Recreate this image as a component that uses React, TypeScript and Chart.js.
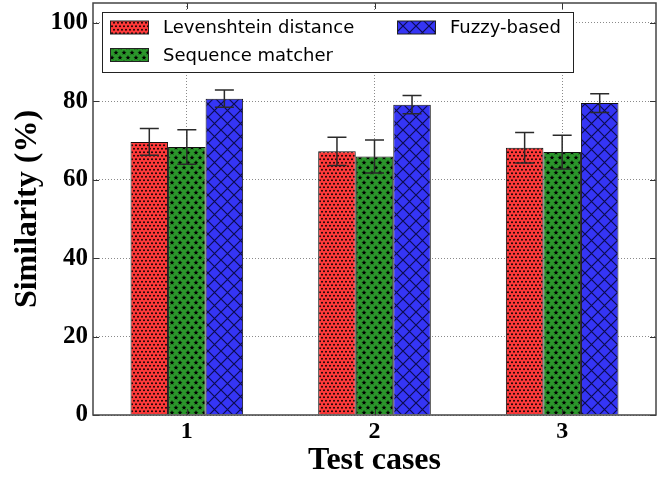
import React, { useEffect, useRef } from "react";
import { Chart, registerables } from "chart.js";

Chart.register(...registerables);

const categories = ["1", "2", "3"];
const seriesLabels = ["Levenshtein distance", "Sequence matcher", "Fuzzy-based"];
const levenshtein = [69.6, 67.2, 68.1];
const levenshteinErr = [3.4, 3.6, 3.9];
const sequence = [68.3, 65.9, 67.0];
const sequenceErr = [4.4, 4.2, 4.3];
const fuzzy = [80.6, 79.1, 79.5];
const fuzzyErr = [2.2, 2.3, 2.4];
const yTicks = [0, 20, 40, 60, 80, 100];

const RED = "#ff3a3a";
const GREEN = "#2b962b";
const BLUE = "#3535f5";

function makeTile(w: number, h: number, draw: (c: CanvasRenderingContext2D) => void) {
  const cv = document.createElement("canvas");
  cv.width = w;
  cv.height = h;
  const c = cv.getContext("2d")!;
  draw(c);
  return c.createPattern(cv, "repeat")!;
}

function dotPattern() {
  return makeTile(8, 7, (c) => {
    c.fillStyle = RED;
    c.fillRect(0, 0, 8, 7);
    c.fillStyle = "#000";
    const pts = [[2, 1.8], [6, 1.8], [0, 5.3], [4, 5.3], [8, 5.3]];
    for (const [x, y] of pts) {
      c.beginPath();
      c.arc(x, y, 0.95, 0, Math.PI * 2);
      c.fill();
    }
  });
}

function starPath(c: CanvasRenderingContext2D, cx: number, cy: number, r: number) {
  c.beginPath();
  for (let i = 0; i < 10; i++) {
    const rr = i % 2 === 0 ? r : r * 0.42;
    const a = -Math.PI / 2 + (i * Math.PI) / 5;
    const x = cx + rr * Math.cos(a);
    const y = cy + rr * Math.sin(a);
    if (i === 0) c.moveTo(x, y);
    else c.lineTo(x, y);
  }
  c.closePath();
  c.fill();
}

function starPattern() {
  return makeTile(8, 10, (c) => {
    c.fillStyle = GREEN;
    c.fillRect(0, 0, 8, 10);
    c.fillStyle = "#000";
    starPath(c, 4, 2.7, 2.6);
    starPath(c, 0, 7.7, 2.6);
    starPath(c, 8, 7.7, 2.6);
  });
}

function crossPattern() {
  return makeTile(13, 13, (c) => {
    c.fillStyle = BLUE;
    c.fillRect(0, 0, 13, 13);
    c.strokeStyle = "#0c0c50";
    c.lineWidth = 1.2;
    c.beginPath();
    c.moveTo(-1, -1);
    c.lineTo(14, 14);
    c.moveTo(14, -1);
    c.lineTo(-1, 14);
    c.stroke();
  });
}

const errorBars = {
  id: "errorBars",
  afterDatasetsDraw(chart: any) {
    const ctx = chart.ctx;
    const y = chart.scales.y;
    ctx.save();
    ctx.strokeStyle = "#2a2a2a";
    ctx.lineWidth = 1.5;
    chart.data.datasets.forEach((ds: any, di: number) => {
      const meta = chart.getDatasetMeta(di);
      meta.data.forEach((bar: any, i: number) => {
        const v = ds.data[i];
        const e = ds.errors[i];
        const top = y.getPixelForValue(v + e);
        const bot = y.getPixelForValue(v - e);
        const x = bar.x;
        ctx.beginPath();
        ctx.moveTo(x, top);
        ctx.lineTo(x, bot);
        ctx.moveTo(x - 9.5, top);
        ctx.lineTo(x + 9.5, top);
        ctx.moveTo(x - 9.5, bot);
        ctx.lineTo(x + 9.5, bot);
        ctx.stroke();
      });
    });
    ctx.restore();
  },
};

const frameAndLegend = {
  id: "frameAndLegend",
  afterDraw(chart: any) {
    const ctx = chart.ctx;
    const a = chart.chartArea;
    const xs = chart.scales.x;
    const ys = chart.scales.y;
    ctx.save();
    // inner ticks
    ctx.strokeStyle = "#333";
    ctx.lineWidth = 1;
    ctx.beginPath();
    yTicks.forEach((t) => {
      const py = Math.round(ys.getPixelForValue(t)) + 0.5;
      ctx.moveTo(a.left, py);
      ctx.lineTo(a.left + 6, py);
      ctx.moveTo(a.right, py);
      ctx.lineTo(a.right - 6, py);
    });
    categories.forEach((_, i) => {
      const px = Math.round(xs.getPixelForValue(i)) + 0.5;
      ctx.moveTo(px, a.bottom);
      ctx.lineTo(px, a.bottom - 6);
      ctx.moveTo(px, a.top);
      ctx.lineTo(px, a.top + 6);
    });
    ctx.stroke();
    // frame
    ctx.strokeStyle = "#444";
    ctx.lineWidth = 1.5;
    ctx.strokeRect(a.left, a.top, a.right - a.left, a.bottom - a.top);

    // legend
    const lx = 102.5, ly = 12.5, lw = 471, lh = 60;
    ctx.fillStyle = "#fff";
    ctx.fillRect(lx, ly, lw, lh);
    ctx.strokeStyle = "#222";
    ctx.lineWidth = 1;
    ctx.strokeRect(lx, ly, lw, lh);
    const slots = [
      { px: 110, ty: 27.5 },
      { px: 110, ty: 55 },
      { px: 397, ty: 27.5 },
    ];
    ctx.font = '18px "DejaVu Sans"';
    ctx.textBaseline = "middle";
    ctx.textAlign = "left";
    chart.data.datasets.forEach((ds: any, i: number) => {
      const s = slots[i];
      ctx.fillStyle = ds.backgroundColor;
      ctx.fillRect(s.px, s.ty - 6.5, 38, 13);
      ctx.strokeStyle = "#222";
      ctx.strokeRect(s.px + 0.5, s.ty - 6.5, 38, 13);
      ctx.fillStyle = "#000";
      ctx.fillText(ds.label, s.px + 53, s.ty + 1);
    });
    ctx.restore();
  },
};

export default function App() {
  const ref = useRef<HTMLCanvasElement>(null);
  useEffect(() => {
    const canvas = ref.current!;
    const patterns = [dotPattern(), starPattern(), crossPattern()];
    const values = [levenshtein, sequence, fuzzy];
    const errs = [levenshteinErr, sequenceErr, fuzzyErr];
    const chart = new Chart(canvas, {
      type: "bar",
      data: {
        labels: categories,
        datasets: seriesLabels.map((label, i) => ({
          label,
          data: values[i],
          errors: errs[i],
          backgroundColor: patterns[i],
          borderColor: "#111",
          borderWidth: 1,
          categoryPercentage: 0.6,
          barPercentage: 1.0,
        })) as any,
      },
      options: {
        animation: false,
        responsive: true,
        maintainAspectRatio: false,
        layout: { padding: { top: 3, right: 16, left: 0, bottom: 0 } },
        plugins: { legend: { display: false }, tooltip: { enabled: false } },
        scales: {
          x: {
            type: "category",
            offset: true,
            grid: {
              display: true,
              offset: false,
              drawTicks: false,
              color: "#8a8a8a",
              lineWidth: 1,
            },
            border: { display: false, dash: [1, 2] },
            ticks: {
              color: "#000",
              padding: 2,
              font: { family: '"Liberation Serif"', size: 24, weight: "bold" },
            },
            title: {
              display: true,
              text: "Test cases",
              color: "#000",
              padding: { top: 0, bottom: 0 },
              font: { family: '"Liberation Serif"', size: 32, weight: "bold", lineHeight: 1.1 },
            },
            afterFit: (s: any) => {
              s.height = 63;
              s.paddingLeft = 0;
              s.paddingRight = 0;
            },
          },
          y: {
            type: "linear",
            min: 0,
            max: 105,
            grid: {
              display: true,
              drawTicks: false,
              color: "#8a8a8a",
              lineWidth: 1,
            },
            border: { display: false, dash: [1, 2] },
            ticks: {
              stepSize: 20,
              includeBounds: false,
              color: "#000",
              padding: 5,
              font: { family: '"Liberation Serif"', size: 25, weight: "bold" },
            },
            title: {
              display: true,
              text: "Similarity (%)",
              color: "#000",
              padding: { top: 9, bottom: 0 },
              font: { family: '"Liberation Serif"', size: 32, weight: "bold", lineHeight: 1.2 },
            },
            afterFit: (s: any) => {
              s.width = 93;
              s.paddingTop = 0;
              s.paddingBottom = 0;
            },
          },
        },
      } as any,
      plugins: [errorBars, frameAndLegend],
    });
    return () => chart.destroy();
  }, []);
  return (
    <div style={{ position: "fixed", left: 0, top: 0, width: 672, height: 478, background: "#fff" }}>
      <canvas ref={ref} />
    </div>
  );
}
